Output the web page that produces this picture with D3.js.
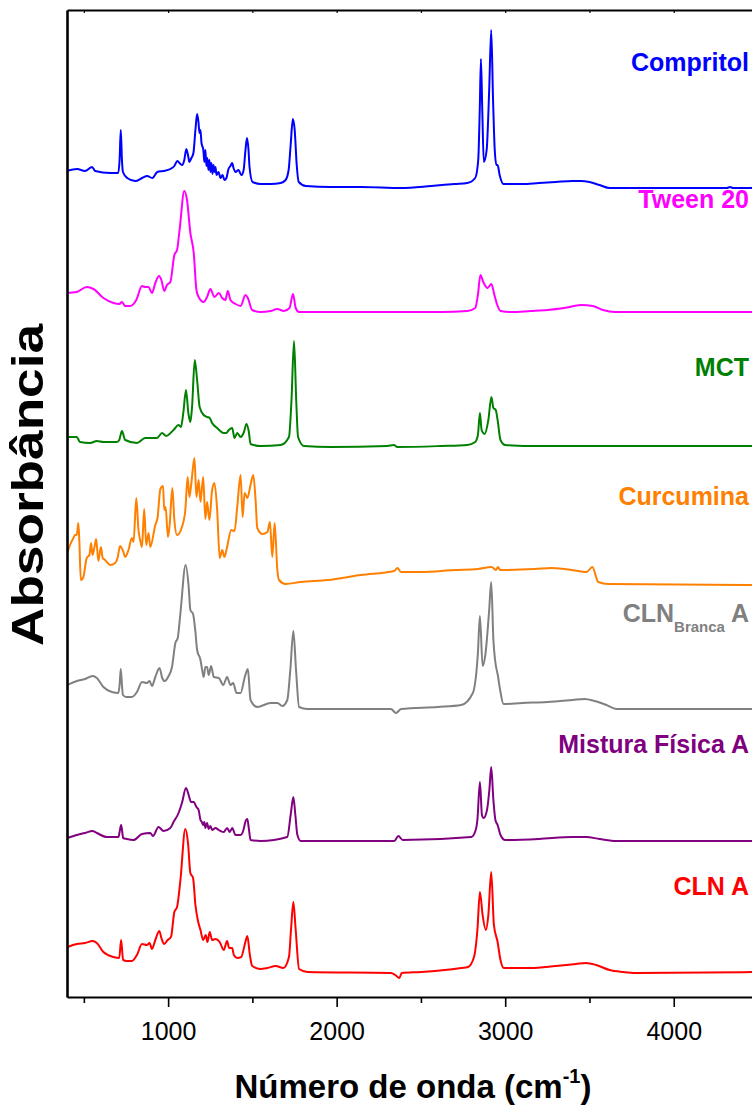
<!DOCTYPE html>
<html><head><meta charset="utf-8">
<script src="https://cdn.jsdelivr.net/npm/d3@7"></script>
<style>html,body{margin:0;padding:0;background:#fff}svg{display:block}</style>
</head><body>
<svg id="c" width="752" height="1106"></svg>
<script>
// ---- DATA (wavenumber cm-1, absorbance in arbitrary stacked units) ----
const seriesNames = ["Compritol","Tween 20","MCT","Curcumina","CLN Branca A","Mistura Física A","CLN A"];

const compritol = [[400,829],[460,831],[507,829],[549,833],[567,829],[656,827],[704,827],[712,840],[719,870],[726,840],[732,828],[757,822],[805,819],[846,822],[876,824],[906,822],[936,828],[971,829],[1013,831],[1037,834],[1055,839],[1073,836],[1084,835],[1096,840],[1108,851],[1120,843],[1126,838],[1138,842],[1150,847],[1162,870],[1172,886],[1180,878],[1186,867],[1192,870],[1198,857],[1209,850],[1215,838],[1221,850],[1227,834],[1233,842],[1239,830],[1245,840],[1251,828],[1257,837],[1263,826],[1269,835],[1275,828],[1281,833],[1287,825],[1299,828],[1311,822],[1323,825],[1334,820],[1346,822],[1358,831],[1370,834],[1380,837],[1388,832],[1400,828],[1418,830],[1430,826],[1436,825],[1448,830],[1459,850],[1468,862],[1477,850],[1483,833],[1501,818],[1549,816],[1608,816],[1668,817],[1697,820],[1715,830],[1727,855],[1740,881],[1751,870],[1763,835],[1775,818],[1817,814],[1965,813],[2144,813],[2382,812],[2561,814],[2700,816],[2775,817],[2822,822],[2840,840],[2849,890],[2856,941],[2864,890],[2873,838],[2890,850],[2905,910],[2917,970],[2928,900],[2938,850],[2948,835],[2955,835],[2967,825],[2990,816],[3100,816],[3200,817],[3300,818],[3400,819],[3450,819],[3500,818],[3560,815],[3620,812],[3870,812],[4168,812],[4316,812],[4334,813],[4352,812],[4500,812]];

const tween20 = [[400,707],[458,708],[517,713],[557,711],[616,702],[676,697],[711,696],[726,698],[745,694],[775,694],[811,700],[845,714],[864,713],[884,713],[904,707],[924,717],[946,724],[960,720],[977,709],[993,715],[1013,718],[1037,745],[1053,750],[1068,770],[1096,809],[1112,800],[1132,767],[1152,747],[1168,710],[1181,703],[1211,698],[1231,703],[1251,711],[1275,703],[1301,707],[1321,702],[1340,700],[1354,709],[1370,700],[1400,696],[1430,694],[1459,705],[1473,702],[1499,690],[1549,688],[1608,689],[1648,691],[1687,689],[1720,692],[1741,706],[1757,692],[1777,688],[1846,688],[2025,688],[2382,688],[2620,688],[2775,689],[2822,692],[2838,705],[2853,725],[2870,718],[2895,712],[2918,716],[2936,705],[2953,695],[2972,689],[3037,688],[3150,689],[3250,690],[3350,692],[3450,695],[3520,694],[3580,690],[3650,688],[4000,688],[4500,688]];

const mct = [[400,563],[458,563],[477,558],[537,557],[577,559],[616,558],[696,558],[710,560],[726,569],[745,560],[815,557],[864,562],[934,562],[964,567],[989,564],[1032,570],[1062,575],[1076,573],[1090,587],[1106,610],[1120,587],[1132,578],[1142,593],[1158,640],[1172,620],[1187,593],[1211,585],[1231,583],[1247,582],[1261,577],[1291,572],[1330,567],[1345,567],[1360,570],[1380,572],[1394,562],[1410,567],[1430,563],[1450,568],[1465,576],[1479,568],[1489,556],[1549,554],[1668,555],[1717,563],[1732,600],[1747,659],[1760,600],[1771,563],[1806,554],[1965,553],[2300,554],[2340,555],[2360,553],[2620,554],[2775,555],[2822,558],[2838,565],[2850,587],[2860,570],[2878,566],[2900,580],[2918,603],[2930,592],[2944,590],[2955,580],[2972,560],[3000,555],[3200,554],[3500,554],[4500,554]];

const curcumina = [[402,447],[418,455],[438,462],[448,465],[458,465],[467,477],[473,460],[482,420],[497,423],[517,442],[533,445],[543,457],[551,445],[562,452],[573,461],[586,439],[601,453],[612,442],[626,440],[656,435],[686,437],[700,442],[715,454],[735,448],[745,443],[765,450],[785,462],[795,458],[811,502],[824,470],[834,460],[845,453],[858,491],[870,455],[884,467],[894,453],[924,475],[937,482],[954,511],[970,514],[977,490],[985,493],[999,463],[1009,475],[1025,512],[1037,480],[1053,465],[1082,473],[1102,490],[1116,523],[1126,503],[1138,517],[1156,542],[1168,503],[1181,520],[1192,498],[1208,523],[1221,481],[1231,498],[1245,480],[1261,510],[1275,517],[1291,490],[1306,442],[1321,450],[1334,443],[1350,453],[1374,470],[1394,469],[1410,493],[1430,525],[1442,483],[1454,507],[1470,502],[1489,515],[1505,525],[1519,500],[1529,472],[1559,466],[1589,468],[1604,478],[1618,443],[1632,477],[1648,430],[1658,420],[1697,416],[1787,418],[1946,420],[2144,425],[2342,429],[2360,432],[2382,428],[2500,428],[2700,430],[2838,431],[2920,433],[2945,430],[2957,433],[2970,430],[3175,431],[3275,432],[3434,429],[3483,428],[3517,433],[3552,418],[3612,416],[4500,415]];

const clnBrancaA = [[402,315],[458,319],[507,321],[552,324],[577,322],[616,313],[666,308],[705,307],[712,315],[719,331],[726,315],[732,305],[751,303],[785,303],[815,308],[845,318],[874,317],[890,319],[904,314],[924,323],[949,332],[965,322],[979,319],[1003,324],[1023,333],[1043,357],[1057,362],[1073,387],[1104,435],[1122,413],[1132,390],[1148,386],[1162,368],[1172,350],[1192,340],[1202,330],[1211,323],[1221,333],[1231,333],[1241,325],[1255,334],[1271,323],[1301,322],[1327,315],[1350,323],[1370,315],[1386,317],[1406,307],[1430,307],[1455,323],[1473,331],[1489,300],[1529,293],[1608,297],[1648,297],[1678,294],[1707,300],[1725,330],[1743,369],[1759,330],[1777,293],[1827,291],[2084,291],[2322,291],[2352,287],[2382,291],[2600,293],[2739,295],[2808,307],[2838,347],[2850,384],[2866,334],[2882,345],[2905,390],[2917,418],[2930,360],[2940,340],[2957,324],[2970,310],[2990,296],[3100,297],[3250,298],[3400,300],[3470,301],[3530,299],[3600,295],[3660,291],[4500,291]];

const misturaFisicaA = [[402,162],[458,165],[507,167],[551,169],[577,167],[636,163],[705,163],[712,168],[721,175],[728,168],[733,162],[755,161],[795,160],[845,166],[894,167],[910,164],[943,173],[973,169],[1013,172],[1032,178],[1062,187],[1082,197],[1106,212],[1122,205],[1136,198],[1152,198],[1168,193],[1181,190],[1192,180],[1200,178],[1208,175],[1215,178],[1221,172],[1231,177],[1241,171],[1251,174],[1261,170],[1281,172],[1300,170],[1311,169],[1330,168],[1350,172],[1366,168],[1380,172],[1400,165],[1430,165],[1447,170],[1458,178],[1470,181],[1480,170],[1489,160],[1549,159],[1707,163],[1727,185],[1743,203],[1755,185],[1767,165],[1787,159],[2342,159],[2366,164],[2392,160],[2799,163],[2825,170],[2835,180],[2850,218],[2862,185],[2872,182],[2892,190],[2906,210],[2917,233],[2930,200],[2942,180],[2955,175],[2972,165],[3000,160],[3200,161],[3400,163],[3480,163],[3560,161],[3660,159],[4500,159]];

const clnA = [[402,53],[458,56],[507,57],[552,59],[577,57],[616,48],[676,43],[710,42],[721,60],[733,40],[755,39],[785,39],[815,45],[845,56],[874,55],[890,57],[904,51],[924,60],[948,69],[960,62],[977,56],[997,60],[1017,63],[1037,88],[1053,93],[1073,120],[1102,171],[1118,157],[1132,127],[1148,122],[1162,95],[1176,80],[1192,70],[1208,60],[1223,65],[1233,58],[1247,68],[1261,60],[1281,61],[1306,58],[1330,50],[1350,59],[1362,52],[1380,52],[1390,45],[1410,42],[1434,43],[1454,55],[1470,64],[1485,45],[1499,34],[1549,31],[1589,32],[1638,34],[1684,32],[1717,43],[1729,70],[1743,98],[1757,70],[1777,31],[1827,28],[2322,27],[2348,25],[2372,22],[2386,27],[2501,28],[2739,32],[2779,33],[2815,43],[2835,70],[2850,108],[2866,85],[2885,70],[2900,85],[2917,128],[2933,75],[2955,58],[2972,40],[2992,32],[3150,32],[3300,34],[3420,36],[3480,37],[3540,35],[3620,30],[3700,28],[3771,27],[4500,28]];

const xMajorTicks = [1000,2000,3000,4000];
const xMinorTicks = [500,1500,2500,3500,4500];

// ---- STYLE / LAYOUT ----
const seriesData = [compritol, tween20, mct, curcumina, clnBrancaA, misturaFisicaA, clnA];
const colors = ["#0000ff","#ff00ff","#008000","#ff8000","#808080","#800080","#ff0000"];
const labelBaselines = [71, 208, 376, 505, 622, 753, 895];
const FONT = "Arial, 'Liberation Sans', Helvetica, sans-serif";

const svg = d3.select("#c");
const plot = {left:67, right:758, top:10, bottom:997};

const x = d3.scaleLinear().domain([400,4500]).range([plot.left, plot.right]);
const y = d3.scaleLinear().domain([3,990]).range([plot.bottom, plot.top]);

svg.append("defs").append("clipPath").attr("id","clip")
  .append("rect").attr("x",plot.left).attr("y",plot.top)
  .attr("width",plot.right-plot.left).attr("height",plot.bottom-plot.top);

const line = d3.line().x(d=>x(d[0])).y(d=>y(d[1])).curve(d3.curveMonotoneX);

svg.append("g").attr("clip-path","url(#clip)")
  .selectAll("path").data(seriesData).join("path")
  .attr("d", line)
  .attr("fill","none")
  .attr("stroke",(d,i)=>colors[i])
  .attr("stroke-width",2)
  .attr("stroke-linejoin","round");

// axes
const gB = svg.append("g").attr("transform",`translate(0,${plot.bottom})`)
  .call(d3.axisBottom(x).tickValues(xMajorTicks).tickSize(10).tickPadding(15).tickSizeOuter(0).tickFormat(d3.format("d")));
gB.select(".domain").attr("stroke-width",2.2);
gB.selectAll(".tick line").attr("stroke-width",1.6);
gB.selectAll("text").attr("font-family",FONT).attr("font-size",25).attr("fill","#000");

const gBm = svg.append("g").attr("transform",`translate(0,${plot.bottom})`)
  .call(d3.axisBottom(x).tickValues(xMinorTicks).tickSize(6).tickSizeOuter(0).tickFormat(""));
gBm.select(".domain").remove();
gBm.selectAll(".tick line").attr("stroke-width",1.6);

const gT = svg.append("g").attr("transform",`translate(0,${plot.top})`)
  .call(d3.axisBottom(x).tickValues(xMajorTicks.concat(xMinorTicks)).tickSize(3).tickSizeOuter(0).tickFormat(""));
gT.select(".domain").attr("stroke-width",2.2);
gT.selectAll(".tick line").attr("stroke-width",1.2);

const gL = svg.append("g").attr("transform",`translate(${plot.left},0)`)
  .call(d3.axisLeft(y).tickValues([]).tickSizeOuter(0));
gL.select(".domain").attr("stroke-width",2.6);

// axis titles
const xt = svg.append("text").attr("x",413).attr("y",1098)
  .attr("text-anchor","middle").attr("font-family",FONT).attr("font-weight","bold")
  .attr("font-size",33).attr("fill","#000");
xt.append("tspan").text("Número de onda (cm");
xt.append("tspan").attr("font-size",20).attr("dy",-15).text("-1");
xt.append("tspan").attr("dy",15).text(")");

svg.append("text").attr("transform","translate(43,485) rotate(-90)")
  .attr("text-anchor","middle").attr("font-family",FONT).attr("font-weight","bold")
  .attr("font-size",44).attr("textLength",322).attr("lengthAdjust","spacingAndGlyphs")
  .attr("fill","#000").text("Absorbância");

// series labels
seriesNames.forEach((name,i)=>{
  const t = svg.append("text").attr("x",749).attr("y",labelBaselines[i])
    .attr("text-anchor","end").attr("font-family",FONT).attr("font-weight","bold")
    .attr("font-size",25).attr("fill",colors[i]);
  if (name === "CLN Branca A") {
    t.append("tspan").text("CLN");
    t.append("tspan").attr("font-size",15).attr("dy",10).text("Branca");
    t.append("tspan").attr("dy",-10).text(" A");
  } else {
    t.text(name);
  }
});
</script>
</body></html>
